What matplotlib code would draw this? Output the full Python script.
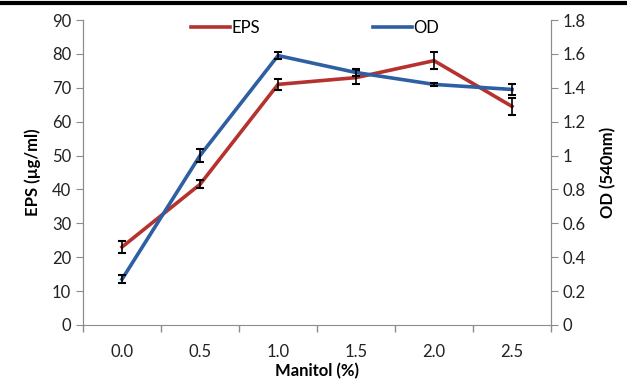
import matplotlib
matplotlib.use("Agg")
import matplotlib.pyplot as plt
from matplotlib.lines import Line2D

plt.rcParams['font.family'] = ['Lato', 'DejaVu Sans']

# Data
manitol = ['0.0', '0.5', '1.0', '1.5', '2.0', '2.5']
eps = [23.0, 41.5, 71.0, 73.0, 78.0, 64.5]
eps_err = [1.8, 1.2, 1.7, 2.0, 2.5, 2.5]
od = [0.27, 1.00, 1.59, 1.49, 1.42, 1.39]
od_err = [0.025, 0.04, 0.02, 0.02, 0.01, 0.03]

red = '#b5322f'
blue = '#2e5fa3'
grey = '#8c8c8c'
fs = 12

fig = plt.figure(figsize=(6.27, 3.81), dpi=100)
ax = fig.add_axes([0.1324, 0.147, 0.7464, 0.8005])
ax2 = ax.twinx()

x = list(range(len(manitol)))

ax.plot(x, eps, color=red, lw=2.6, zorder=3)
ax.errorbar(x, eps, yerr=eps_err, fmt='none', ecolor='black', elinewidth=1.2, capsize=3, capthick=1.5, zorder=4)
ax2.plot(x, od, color=blue, lw=2.6, zorder=3)
ax2.errorbar(x, od, yerr=od_err, fmt='none', ecolor='black', elinewidth=1.2, capsize=3, capthick=1.5, zorder=4)

ax.set_xlim(-0.5, len(manitol) - 0.5)
ax.set_ylim(0, 90)
ax.set_yticks(range(0, 91, 10))
ax2.set_ylim(0, 1.8)
ax2.set_yticks([0, 0.2, 0.4, 0.6, 0.8, 1.0, 1.2, 1.4, 1.6, 1.8])
ax2.set_yticklabels(['0', '0.2', '0.4', '0.6', '0.8', '1', '1.2', '1.4', '1.6', '1.8'])

ax.set_xticks(x)
ax.set_xticklabels(manitol)
ax.set_xticks([i - 0.5 for i in range(len(manitol) + 1)], minor=True)
ax.tick_params(axis='x', which='major', length=0, labelsize=fs, pad=14, colors='#222222')
ax.tick_params(axis='x', which='minor', length=5, color=grey, width=1)
ax.tick_params(axis='y', length=5, color=grey, labelsize=fs, labelcolor='#222222')
ax2.tick_params(axis='y', length=5, color=grey, labelsize=fs, labelcolor='#222222')

for a in (ax, ax2):
    for s in a.spines.values():
        s.set_color(grey)
    a.spines['top'].set_visible(False)
ax2.spines['bottom'].set_visible(False)

ax.set_xlabel('Manitol (%)', fontsize=fs, fontweight='bold', labelpad=2)
ax.set_ylabel('EPS (µg/ml)', fontsize=fs, fontweight='bold', labelpad=8)
ax2.set_ylabel('OD (540nm)', fontsize=fs, fontweight='bold', labelpad=10)

handles = [Line2D([], [], color=red, lw=2.6), Line2D([], [], color=blue, lw=2.6)]
ax.legend(handles, ['EPS', 'OD'], loc='upper center', ncol=2, frameon=False,
          fontsize=fs, handlelength=2.3, handletextpad=0.1, columnspacing=6.8,
          bbox_to_anchor=(0.496, 1.05))

fig.add_artist(Line2D([0, 1], [0.993, 0.993], color='black', lw=3, transform=fig.transFigure))

fig.savefig('out.png', dpi=100)
